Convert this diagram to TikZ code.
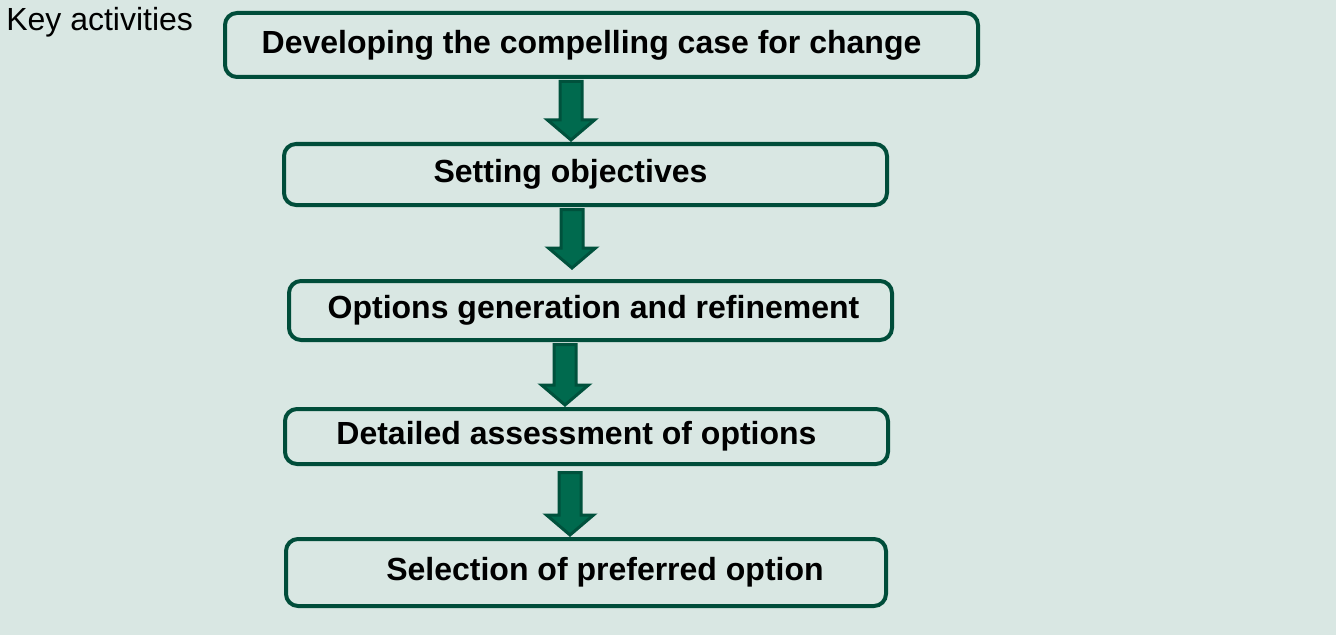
\documentclass[tikz,border=0pt]{standalone}
\usepackage{fontspec}
\setmainfont{Liberation Sans}
\usetikzlibrary{positioning,calc}
\definecolor{bgcol}{HTML}{D9E7E3}
\definecolor{boxline}{HTML}{004D3A}
\definecolor{arrowfill}{HTML}{006A4E}
\definecolor{arrowline}{HTML}{00513C}
\tikzset{
  stepbox/.style={draw=boxline,line width=3pt,rounded corners=9pt,inner sep=0pt},
  steptext/.style={inner sep=0pt,font=\fontsize{24}{29}\selectfont\bfseries},
  blockarrow/.style={draw=arrowline,fill=arrowfill,line width=2.25pt}
}
% box with its label, label shifted sideways
\newcommand{\newStep}[4]{\node[stepbox,#3](#1){};
  \node[steptext,xshift=#4](#1-text) at (#1.center) {#2};}
% block arrow: from, to, x, gap at top, gap at tip
\newcommand{\newArrow}[5]{\path (#3,0) coordinate (#1-x);
  \coordinate (#1-top) at ($(#1.south -| #1-x)+(0,#4)$);
  \coordinate (#1-tip) at ($(#2.north -| #1-x)-(0,#5)$);
  \draw[blockarrow] ($(#1-top)+(-11,0)$) -- ($(#1-tip)+(-11,-20)$) -- ++(-12.5,0)
    -- (#1-tip) -- ($(#1-tip)+(23.5,-20)$) -- ++(-12.5,0) -- ($(#1-top)+(11,0)$) -- cycle;}
\begin{document}
\begin{tikzpicture}[x=0.75pt,y=-0.75pt]
  \path[fill=bgcol,use as bounding box] (0,0) rectangle (1336,635);
  \node[anchor=base west,inner sep=0pt,font=\fontsize{24}{29}\selectfont] (key) at (6,31) {Key activities};
  \newStep{b1}{Developing the compelling case for change}{minimum width=564.75pt,minimum height=48pt,at={(601.5,45)}}{-7.5pt}
  \newStep{b2}{Setting objectives}{minimum width=452.25pt,minimum height=45.75pt,below=47.25pt of b1,xshift=-12pt}{-11.25pt}
  \newStep{b3}{Options generation and refinement}{minimum width=452.25pt,minimum height=44.25pt,below=54pt of b2,xshift=3.75pt}{2.25pt}
  \newStep{b4}{Detailed assessment of options}{minimum width=452.25pt,minimum height=41.25pt,below=48.75pt of b3,xshift=-3pt}{-7.5pt}
  \newStep{b5}{Selection of preferred option}{minimum width=450pt,minimum height=50.25pt,below=53.25pt of b4,xshift=-0.375pt}{14.25pt}
  \newArrow{b1}{b2}{571}{2.5}{2}
  \newArrow{b2}{b3}{572}{2.5}{11}
  \newArrow{b3}{b4}{565}{2.5}{2}
  \newArrow{b4}{b5}{570}{6.5}{2}
\end{tikzpicture}
\end{document}
